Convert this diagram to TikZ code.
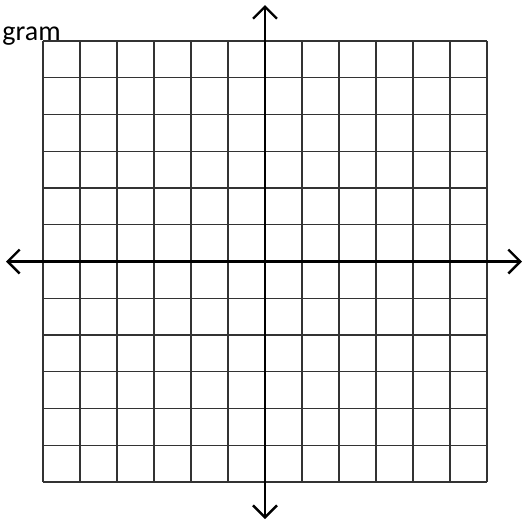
\documentclass[tikz,border=0pt]{standalone}
\usepackage{fontspec}
\setmainfont{Carlito}
\usetikzlibrary{arrows.meta}
\tikzset{
  gridline/.style={line width=0.7pt, draw=black!80},
  axisline/.style={line width=1.2pt, draw=black, {Straight Barb[length=6pt,width=12pt,line width=1.2pt]}-{Straight Barb[length=6pt,width=12pt,line width=1.2pt]}},
  label/.style={font=\fontsize{14pt}{16pt}\selectfont, inner sep=0pt}
}
\begin{document}
\begin{tikzpicture}[x=0.5pt,y=-0.5pt]
\useasboundingbox (0,0) rectangle (524,521);
% grid
\foreach \i in {0,...,12} {
  \draw[gridline] ({43+37*\i},41) -- ({43+37*\i},482);
  \draw[gridline] (43,{41+36.75*\i}) -- (487,{41+36.75*\i});
}
% axes
\coordinate (top) at (265,5);
\coordinate (bottom) at (265,519);
\coordinate (left) at (6,261.5);
\coordinate (right) at (522,261.5);
\draw[axisline] (bottom) -- (top);
\draw[axisline] (left) -- (right);
% partial title
\node[label, anchor=base east] (title) at (61,40) {gram};
\end{tikzpicture}
\end{document}
